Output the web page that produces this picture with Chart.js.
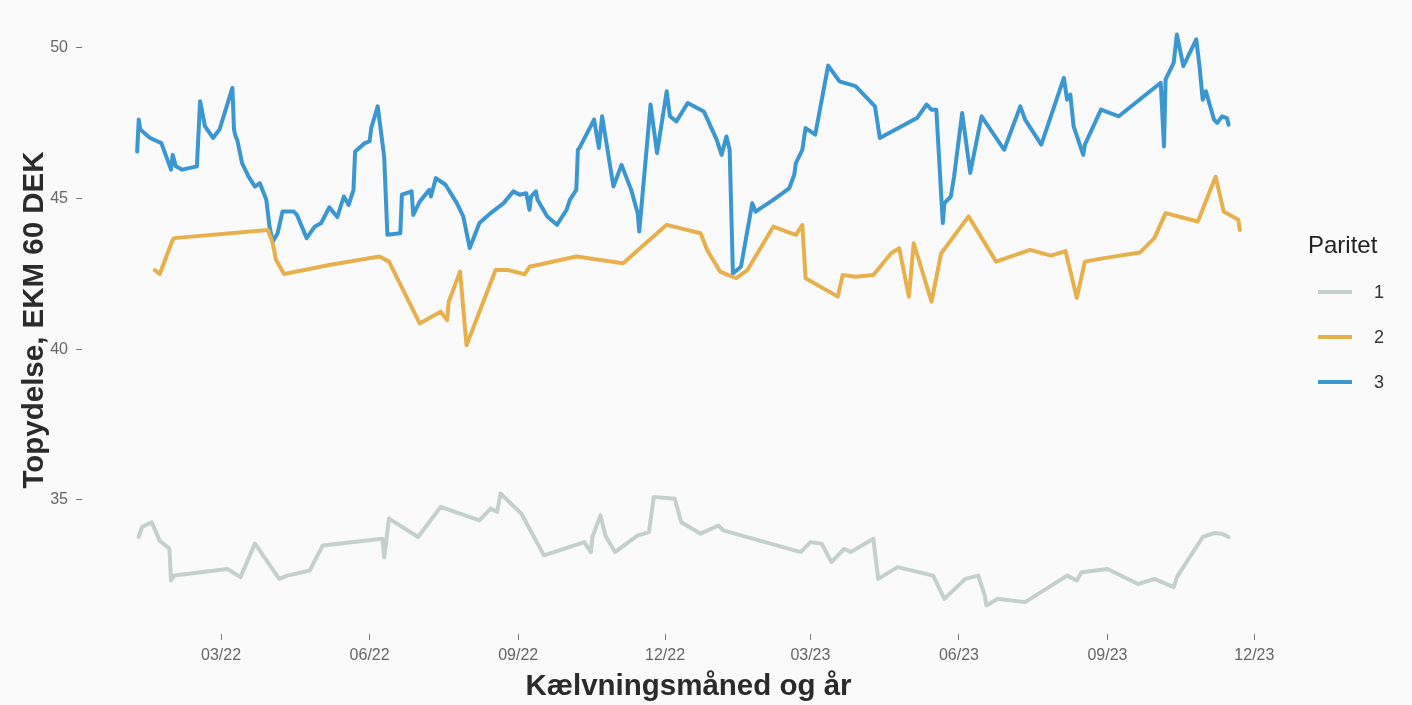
<!DOCTYPE html>
<html>
<head>
<meta charset="utf-8">
<script src="https://cdn.jsdelivr.net/npm/chart.js@4"></script>
<style>
  html, body { margin: 0; padding: 0; background: #fafafa; }
  #wrap { width: 1412px; height: 705px; }
</style>
</head>
<body>
<div id="wrap"><canvas id="chart" width="1412" height="705"></canvas></div>
<script>
// Topydelse per kælvningsdato, tre pariteter
const seriesLabels = ['1', '2', '3'];
const seriesColors = ['#c4d0ca', '#e8b04c', '#3b97d1'];

const dates1 = ['2022-01-09','2022-01-11','2022-01-17','2022-01-22','2022-01-28','2022-01-29','2022-01-31','2022-03-05','2022-03-13','2022-03-22',
  '2022-04-06','2022-04-11','2022-04-25','2022-04-27','2022-05-03','2022-06-09','2022-06-10','2022-06-13','2022-07-01','2022-07-15',
  '2022-08-08','2022-08-15','2022-08-19','2022-08-21','2022-09-03','2022-09-17','2022-10-12','2022-10-16','2022-10-17','2022-10-22',
  '2022-10-25','2022-10-31','2022-11-14','2022-11-21','2022-11-24','2022-12-07','2022-12-11','2022-12-23','2023-01-03','2023-01-06',
  '2023-02-23','2023-03-01','2023-03-08','2023-03-14','2023-03-22','2023-03-26','2023-04-09','2023-04-12','2023-04-24','2023-05-16',
  '2023-05-23','2023-06-05','2023-06-13','2023-06-17','2023-06-18','2023-06-25','2023-07-12','2023-08-07','2023-08-13','2023-08-16',
  '2023-09-01','2023-09-20','2023-09-30','2023-10-12','2023-10-14','2023-10-30','2023-11-06','2023-11-11','2023-11-15'];
const values1 = [33.77,34.10,34.26,33.65,33.38,32.33,32.49,32.71,32.44,33.55,
  32.38,32.49,32.66,32.88,33.49,33.71,33.10,34.38,33.77,34.77,
  34.32,34.71,34.60,35.21,34.54,33.16,33.60,33.27,33.77,34.49,
  33.82,33.27,33.82,33.93,35.10,35.04,34.26,33.88,34.15,33.99,
  33.27,33.60,33.55,32.94,33.38,33.27,33.71,32.38,32.77,32.49,
  31.72,32.38,32.49,31.83,31.50,31.72,31.61,32.49,32.33,32.60,
  32.71,32.21,32.38,32.11,32.44,33.77,33.90,33.88,33.77];

const dates2 = ['2022-01-19','2022-01-22','2022-01-30','2022-01-31','2022-03-30','2022-04-02','2022-04-04','2022-04-09','2022-05-07','2022-06-07',
  '2022-06-13','2022-07-02','2022-07-15','2022-07-19','2022-07-20','2022-07-27','2022-07-31','2022-08-18','2022-08-26','2022-09-05',
  '2022-09-08','2022-10-07','2022-11-05','2022-12-02','2022-12-23','2022-12-27','2023-01-04','2023-01-14','2023-01-21','2023-02-06',
  '2023-02-14','2023-02-20','2023-02-24','2023-02-26','2023-03-18','2023-03-21','2023-03-29','2023-04-09','2023-04-20','2023-04-25',
  '2023-05-01','2023-05-04','2023-05-15','2023-05-21','2023-06-07','2023-06-24','2023-07-15','2023-07-28','2023-08-06','2023-08-13',
  '2023-08-18','2023-08-28','2023-09-21','2023-09-30','2023-10-07','2023-10-27','2023-11-07','2023-11-12','2023-11-21','2023-11-22'];
const values2 = [42.62,42.49,43.62,43.68,43.95,43.51,42.96,42.49,42.79,43.07,
  42.90,40.85,41.24,40.96,41.57,42.57,40.13,42.62,42.62,42.48,
  42.73,43.07,42.85,44.12,43.84,43.29,42.57,42.35,42.62,44.06,
  43.90,43.79,44.12,42.35,41.74,42.46,42.40,42.46,43.18,43.35,
  41.74,43.51,41.57,43.18,44.40,42.90,43.29,43.10,43.25,41.70,
  42.90,43.00,43.20,43.68,44.51,44.23,45.72,44.56,44.29,43.95];

const dates3 = ['2022-01-08','2022-01-09','2022-01-10','2022-01-16','2022-01-23','2022-01-29','2022-01-30','2022-02-01','2022-02-05','2022-02-14',
  '2022-02-16','2022-02-19','2022-02-24','2022-02-28','2022-03-08','2022-03-09','2022-03-10','2022-03-11','2022-03-14','2022-03-18',
  '2022-03-22','2022-03-25','2022-03-29','2022-03-31','2022-04-02','2022-04-05','2022-04-08','2022-04-15','2022-04-17','2022-04-23',
  '2022-04-28','2022-05-02','2022-05-07','2022-05-12','2022-05-16','2022-05-19','2022-05-22','2022-05-23','2022-05-29','2022-06-01',
  '2022-06-02','2022-06-06','2022-06-10','2022-06-12','2022-06-20','2022-06-21','2022-06-27','2022-06-28','2022-07-02','2022-07-08',
  '2022-07-09','2022-07-12','2022-07-18','2022-07-25','2022-07-29','2022-08-02','2022-08-08','2022-08-15','2022-08-23','2022-08-29',
  '2022-09-02','2022-09-06','2022-09-08','2022-09-09','2022-09-12','2022-09-13','2022-09-19','2022-09-25','2022-10-01','2022-10-03',
  '2022-10-07','2022-10-08','2022-10-09','2022-10-18','2022-10-21','2022-10-23','2022-10-30','2022-11-04','2022-11-10','2022-11-14',
  '2022-11-15','2022-11-22','2022-11-26','2022-12-02','2022-12-04','2022-12-08','2022-12-15','2022-12-25','2023-01-02','2023-01-05',
  '2023-01-08','2023-01-10','2023-01-12','2023-01-17','2023-01-24','2023-01-26','2023-02-06','2023-02-16','2023-02-19','2023-02-20',
  '2023-02-24','2023-02-26','2023-03-04','2023-03-12','2023-03-19','2023-03-29','2023-04-10','2023-04-13','2023-05-06','2023-05-12',
  '2023-05-15','2023-05-18','2023-05-22','2023-05-23','2023-05-27','2023-05-29','2023-06-03','2023-06-08','2023-06-15','2023-06-29',
  '2023-07-09','2023-07-12','2023-07-22','2023-08-05','2023-08-07','2023-08-09','2023-08-11','2023-08-17','2023-08-18','2023-08-28',
  '2023-09-08','2023-10-04','2023-10-06','2023-10-07','2023-10-12','2023-10-14','2023-10-18','2023-10-26','2023-10-28','2023-10-30',
  '2023-11-01','2023-11-03','2023-11-06','2023-11-08','2023-11-11','2023-11-14','2023-11-15'];
const values3 = [46.55,47.61,47.28,47.00,46.83,45.95,46.44,46.06,45.95,46.06,
  48.22,47.39,47.00,47.28,48.66,47.28,47.05,46.94,46.17,45.72,
  45.39,45.50,44.95,44.06,43.56,43.84,44.56,44.56,44.45,43.68,
  44.06,44.18,44.70,44.38,45.06,44.78,45.28,46.55,46.83,46.89,
  47.33,48.05,46.39,43.79,43.84,45.12,45.23,44.45,44.89,45.28,
  45.06,45.67,45.45,44.84,44.40,43.35,44.18,44.51,44.84,45.23,
  45.12,45.17,44.62,45.06,45.23,44.95,44.40,44.12,44.62,44.95,
  45.28,46.61,46.67,47.61,46.67,47.72,45.39,46.11,45.28,44.51,
  43.90,48.11,46.50,48.55,47.72,47.55,48.16,47.88,46.94,46.44,
  47.05,46.61,42.51,42.73,44.84,44.56,44.95,45.34,45.78,46.17,
  46.61,47.33,47.11,49.40,48.88,48.72,48.05,47.00,47.66,48.11,
  47.94,47.94,44.18,44.84,45.06,45.72,47.83,45.84,47.72,46.61,
  48.05,47.61,46.78,48.99,48.27,48.44,47.39,46.44,46.78,47.94,
  47.72,48.83,46.72,48.94,49.49,50.43,49.38,50.27,49.38,48.27,
  48.55,48.16,47.61,47.50,47.72,47.66,47.44];

const xTickDates = ['2022-03-01','2022-06-01','2022-09-01','2022-12-01','2023-03-01','2023-06-01','2023-09-01','2023-12-01'];
const yTicks = [35, 40, 45, 50];

const allDates = [dates1, dates2, dates3];
const allValues = [values1, values2, values3];

const toPoints = (d, v) => d.map((s, i) => ({ x: Date.parse(s), y: v[i] }));

// ggplot-style 5% expansion of the data range
const xs = allDates.flat().map(s => Date.parse(s));
const ys = allValues.flat();
const xMin = Math.min(...xs), xMax = Math.max(...xs);
const yMin = Math.min(...ys), yMax = Math.max(...ys);
const xPad = (xMax - xMin) * 0.05, yPad = (yMax - yMin) * 0.05;

const FONT = "'Liberation Sans', Arial, sans-serif";

const legendPlugin = {
  id: 'sideLegend',
  afterDraw(chart) {
    const ctx = chart.ctx;
    ctx.save();
    ctx.fillStyle = '#222';
    ctx.font = '24px ' + FONT;
    ctx.textBaseline = 'middle';
    ctx.textAlign = 'left';
    ctx.fillText('Paritet', 1308, 246);
    chart.data.datasets.forEach((ds, i) => {
      const y = 292 + i * 45;
      ctx.strokeStyle = ds.borderColor;
      ctx.lineWidth = 4;
      ctx.beginPath();
      ctx.moveTo(1318, y);
      ctx.lineTo(1352, y);
      ctx.stroke();
      ctx.fillStyle = '#333';
      ctx.font = '18px ' + FONT;
      ctx.fillText(ds.label, 1374, y + 1);
    });
    ctx.restore();
  }
};

new Chart(document.getElementById('chart'), {
  type: 'line',
  data: {
    datasets: seriesLabels.map((lab, i) => ({
      label: lab,
      data: toPoints(allDates[i], allValues[i]),
      borderColor: seriesColors[i],
      backgroundColor: seriesColors[i],
      borderWidth: 4,
      pointRadius: 0,
      tension: 0,
      borderJoinStyle: 'round',
      borderCapStyle: 'round'
    }))
  },
  options: {
    responsive: false,
    animation: false,
    devicePixelRatio: 1,
    layout: { padding: { left: 17, top: 6, right: 117, bottom: 0 } },
    plugins: {
      legend: { display: false },
      tooltip: { enabled: false }
    },
    scales: {
      x: {
        type: 'linear',
        min: xMin - xPad,
        max: xMax + xPad,
        afterBuildTicks: s => { s.ticks = xTickDates.map(d => ({ value: Date.parse(d) })); },
        afterFit: s => { s.height = 71; s.paddingLeft = 0; s.paddingRight = 0; },
        grid: { drawOnChartArea: false, drawTicks: true, tickLength: 6, tickColor: '#777', lineWidth: 1 },
        border: { display: false },
        ticks: {
          padding: 6,
          color: '#666',
          font: { family: FONT, size: 16 },
          maxRotation: 0,
          callback: v => {
            const d = new Date(v);
            return String(d.getUTCMonth() + 1).padStart(2, '0') + '/' + String(d.getUTCFullYear()).slice(2);
          }
        },
        title: {
          display: true,
          text: 'Kælvningsmåned og år',
          color: '#2b2b2b',
          font: { family: FONT, size: 29.5, weight: 'bold' },
          padding: { top: 0, bottom: 0 }
        }
      },
      y: {
        min: yMin - yPad,
        max: yMax + yPad,
        afterBuildTicks: s => { s.ticks = yTicks.map(v => ({ value: v })); },
        afterFit: s => { s.width = 65; s.paddingTop = 0; s.paddingBottom = 0; },
        grid: { drawOnChartArea: false, drawTicks: true, tickLength: 6, tickColor: '#777', lineWidth: 1 },
        border: { display: false },
        ticks: {
          padding: 8,
          color: '#666',
          font: { family: FONT, size: 16 }
        },
        title: {
          display: true,
          text: 'Topydelse, EKM 60 DEK',
          color: '#2b2b2b',
          font: { family: FONT, size: 29.5, weight: 'bold' },
          padding: { top: 0, bottom: 0 }
        }
      }
    }
  },
  plugins: [legendPlugin]
});
</script>
</body>
</html>
